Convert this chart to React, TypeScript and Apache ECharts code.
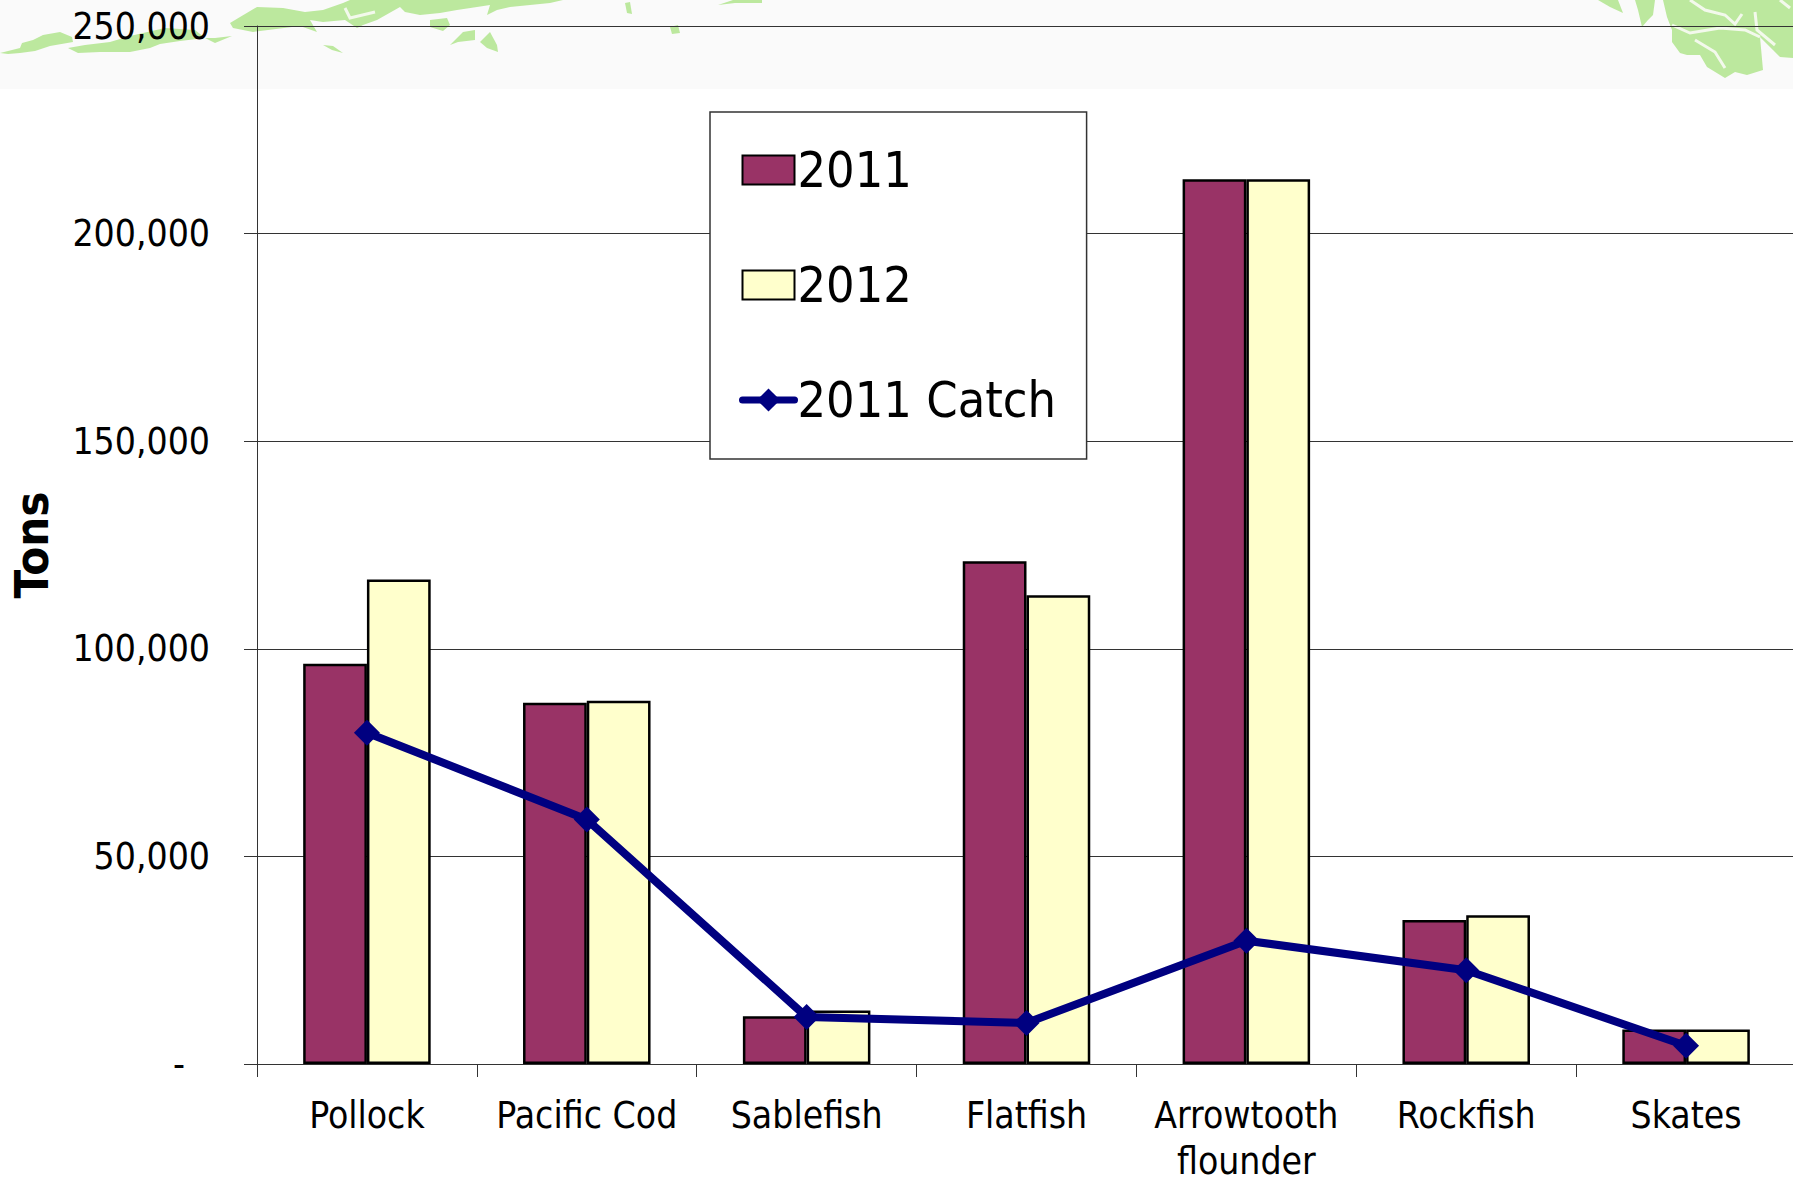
import React, { useEffect, useRef } from "react";
import * as echarts from "echarts";

const categories = ["Pollock", "Pacific Cod", "Sablefish", "Flatfish", "Arrowtooth\nflounder", "Rockfish", "Skates"];
const tac2011 = [96400, 87000, 11500, 121100, 213100, 34700, 8300];
const tac2012 = [116700, 87500, 12900, 112900, 213100, 35800, 8300];
const catch2011 = [79800, 58900, 11300, 9900, 29700, 22600, 4400];

const FONT = "'DejaVu Sans Condensed', 'DejaVu Sans', sans-serif";
const GREEN = "#BCE89E";
const PALE = "#F3F9EC";

const islands: number[][][] = [
  [[0,53],[20,48],[22,43],[33,40],[43,35],[60,32],[72,37],[73,42],[50,46],[35,51],[20,53],[8,54]],
  [[68,48],[85,45],[110,42],[130,36],[165,28],[195,30],[205,38],[180,41],[160,44],[150,48],[130,52],[100,52],[78,53]],
  [[205,38],[215,38],[232,36],[215,43]],
  [[230,23],[240,17],[257,7],[283,8],[305,12],[323,10],[343,3],[350,0],[563,0],[550,3],[510,7],[497,10],[487,15],[490,5],[477,7],[457,10],[440,13],[420,15],[405,12],[400,7],[377,20],[363,25],[357,28],[345,20],[323,22],[310,20],[317,32],[300,26],[253,32],[233,28]],
  [[430,20],[447,18],[450,25],[443,31],[430,27]],
  [[450,45],[463,32],[475,30],[475,40],[458,42]],
  [[480,42],[490,32],[497,45],[498,52],[487,48]],
  [[323,45],[333,46],[343,53],[332,50]],
  [[625,3],[630,2],[632,14],[627,13]],
  [[670,27],[678,25],[680,33],[672,34]],
  [[718,5],[733,0],[762,0],[762,3],[735,3]],
  [[1598,0],[1618,0],[1623,13],[1610,7]],
  [[1635,0],[1655,0],[1653,15],[1648,20],[1642,27],[1638,10]],
  [[1663,0],[1793,0],[1793,58],[1780,57],[1773,50],[1760,37],[1763,70],[1747,75],[1735,72],[1725,78],[1707,67],[1700,55],[1687,55],[1680,53],[1672,42],[1672,30],[1667,17]],
];

const channels: number[][][] = [
  [[1690,0],[1705,10],[1725,15],[1735,24],[1742,14]],
  [[1755,12],[1757,30],[1775,45]],
  [[1672,25],[1690,33],[1720,28],[1745,30],[1760,37]],
  [[1695,40],[1715,52],[1725,68]],
  [[345,8],[350,18],[375,12]],
  [[1780,0],[1790,8]],
];

export default function App() {
  const ref = useRef<HTMLDivElement>(null);
  useEffect(() => {
    const chart = echarts.init(ref.current!, undefined, { renderer: "svg" });
    const barStyle = (color: string) => ({ color, borderColor: "#000", borderWidth: 2.5 });
    chart.setOption({
      animation: false,
      backgroundColor: "#fff",
      grid: { left: 257, top: 26, width: 1539, height: 1038, outerBoundsMode: "none", containLabel: false },
      graphic: {
        elements: [
          { type: "rect", silent: true, z: -10, shape: { x: 0, y: 0, width: 1793, height: 89 }, style: { fill: "#FAFAFA" } },
          ...islands.map((points) => ({ type: "polygon", silent: true, z: -9, shape: { points }, style: { fill: GREEN } })),
          ...channels.map((points) => ({ type: "polyline", silent: true, z: -8, shape: { points }, style: { stroke: PALE, lineWidth: 3, fill: "none" } })),
          { type: "text", x: 31.5, y: 545, rotation: Math.PI / 2, style: { text: "Tons", font: `bold 47px ${FONT}`, fill: "#000", align: "center", verticalAlign: "middle" } },
        ],
      },
      legend: {
        left: 710, top: 112, orient: "vertical", padding: [28, 30.5, 29, 29], itemGap: 55, itemWidth: 52, itemHeight: 29,
        backgroundColor: "#fff", borderColor: "#333", borderWidth: 1.5,
        textStyle: { fontFamily: FONT, fontSize: 50, color: "#000", lineHeight: 60, padding: [0, 0, 0, -2] },
        data: [
          { name: "2011", icon: "rect" },
          { name: "2012", icon: "rect" },
          { name: "2011 Catch", lineStyle: { width: 7, color: "#000080", cap: "round" } },
        ],
      },
      xAxis: {
        type: "category", data: categories,
        axisLine: { onZero: false, lineStyle: { color: "#333", width: 1 } },
        axisTick: { show: true, alignWithLabel: false, length: 13, lineStyle: { color: "#333", width: 1 } },
        axisLabel: {
          interval: 0, margin: 22.5, verticalAlign: "top",
          formatter: (v: string) => {
            const [first, second] = v.split("\n");
            return second ? `{a|${first}}\n{b|${second}}` : `{a|${first}}`;
          },
          rich: {
            a: { fontFamily: FONT, fontSize: 37, color: "#000", lineHeight: 57 },
            b: { fontFamily: FONT, fontSize: 37, color: "#000", lineHeight: 35 },
          },
        },
      },
      yAxis: {
        type: "value", min: 0, max: 250000, interval: 50000,
        axisLine: { show: true, lineStyle: { color: "#333", width: 1 } },
        axisTick: { show: true, length: 13, lineStyle: { color: "#333", width: 1 } },
        splitLine: { lineStyle: { color: "#333", width: 1 } },
        axisLabel: {
          fontFamily: FONT, fontSize: 37, color: "#000", margin: 47,
          formatter: (v: number) => (v === 0 ? "{z|-}" : v.toLocaleString("en-US")),
          rich: { z: { fontFamily: FONT, fontSize: 37, color: "#000", padding: [0, 25, 0, 0] } },
        },
      },
      series: [
        { name: "2011", type: "bar", data: tac2011, barGap: 0, barCategoryGap: "42%", itemStyle: barStyle("#993366") },
        { name: "2012", type: "bar", data: tac2012, itemStyle: barStyle("#FFFFCC") },
        {
          name: "2011 Catch", type: "line", data: catch2011, z: 5, symbol: "diamond", symbolSize: 26,
          lineStyle: { color: "#000080", width: 8 }, itemStyle: { color: "#000080" },
        },
      ],
    });
    return () => chart.dispose();
  }, []);
  return <div ref={ref} style={{ position: "absolute", left: 0, top: 0, width: 1793, height: 1179 }} />;
}
